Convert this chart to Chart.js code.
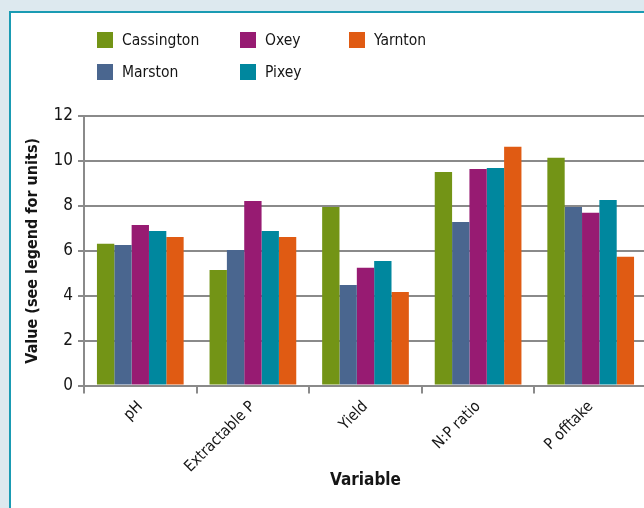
<!DOCTYPE html>
<html>
<head>
<meta charset="utf-8">
<script src="https://cdn.jsdelivr.net/npm/chart.js@4/dist/chart.umd.min.js"></script>
<style>
  html, body { margin:0; padding:0; width:644px; height:508px; overflow:hidden; background:#dde9ef; }
  #panel { position:absolute; left:9px; top:11px; width:700px; height:600px; background:#fff; border:2px solid #1a9bb3; }
  #wrap { position:absolute; left:0; top:0; width:680px; height:508px; }
  #legend { position:absolute; left:97px; top:32px; display:grid; grid-template-columns:143px 109px auto;
            grid-template-rows:16px 16px; row-gap:16px; grid-auto-flow:column;
            font-family:"Liberation Sans Narrow","DejaVu Sans Condensed",sans-serif; font-size:15.5px; color:#151515; }
  .item { display:flex; align-items:center; height:16px; white-space:nowrap; }
  .sw { width:16px; height:16px; margin-right:9px; }
</style>
</head>
<body>
<div id="panel"></div>
<div id="wrap"><canvas id="chart" width="680" height="508"></canvas></div>
<div id="legend"></div>
<script>
const categories = ["pH", "Extractable P", "Yield", "N:P ratio", "P offtake"];
const sites = ["Cassington", "Marston", "Oxey", "Pixey", "Yarnton"];
const colors = ["#739416", "#4a668f", "#971b72", "#00879e", "#e05b13"];
const cassington = [6.31, 5.15, 7.95, 9.51, 10.14];
const marston    = [6.26, 6.04, 4.48, 7.28, 7.95];
const oxey       = [7.15, 8.22, 5.24, 9.64, 7.69];
const pixey      = [6.88, 6.88, 5.55, 9.69, 8.26];
const yarnton    = [6.61, 6.61, 4.17, 10.63, 5.73];
const yTicks = [0, 2, 4, 6, 8, 10, 12];

const seriesValues = [cassington, marston, oxey, pixey, yarnton];
const FONT = "'Liberation Sans Narrow','DejaVu Sans Condensed',sans-serif";
const GRID = "#8a8a8a";

// legend (html, column-major like the original)
let lg = "";
sites.forEach((s,i)=>{ lg += `<div class="item"><div class="sw" style="background:${colors[i]}"></div>${s}</div>`; });
document.getElementById("legend").innerHTML = lg;

new Chart(document.getElementById("chart"), {
  type: "bar",
  data: {
    labels: categories,
    datasets: sites.map((s,i)=>({ label:s, data:seriesValues[i], backgroundColor:colors[i],
      borderWidth:0, barPercentage:1.0, categoryPercentage:0.77 }))
  },
  options: {
    responsive:false, animation:false,
    layout: { padding: { top:116, left:0, right:33, bottom:0 } },
    plugins: { legend:{ display:false }, tooltip:{ enabled:false } },
    scales: {
      x: {
        grid: { drawOnChartArea:false, drawTicks:true, tickLength:8, color:GRID, lineWidth:2, offset:true },
        border: { display:true, color:GRID, width:2 },
        ticks: { minRotation:45, maxRotation:45, padding:4, color:"#151515", font:{ family:FONT, size:15.5 } },
        title: { display:true, text:"Variable", color:"#151515", padding:{ top:0, bottom:17 },
                 font:{ family:FONT, size:17, weight:"bold", lineHeight:1.2 } },
        afterFit: (sc)=>{ sc.height = 122.4; }
      },
      y: {
        min:0, max:12,
        afterBuildTicks: (sc)=>{ sc.ticks = yTicks.map(v=>({ value:v })); },
        grid: { color:GRID, lineWidth:2, tickLength:6 },
        border: { display:true, color:GRID, width:2 },
        ticks: { padding:5, color:"#151515", font:{ family:FONT, size:17 } },
        title: { display:true, text:"Value (see legend for units)", color:"#151515", padding:{ top:23, bottom:0 },
                 font:{ family:FONT, size:16, weight:"bold", lineHeight:1.2 } },
        afterFit: (sc)=>{ sc.width = 84; }
      }
    }
  }
});
</script>
</body>
</html>
